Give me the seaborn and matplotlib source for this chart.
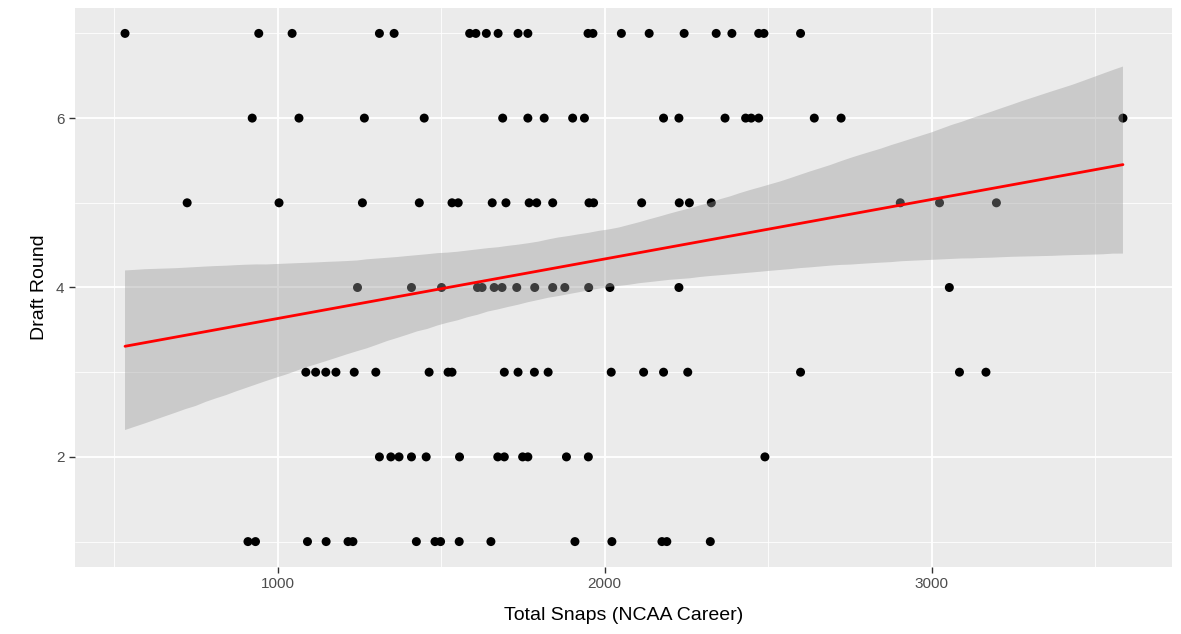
import matplotlib
matplotlib.use('Agg')
import matplotlib.pyplot as plt
import pandas as pd
import seaborn as sns
from matplotlib.ticker import MultipleLocator

# Draft round vs total NCAA career snaps
round_7 = [533, 942, 1044, 1311, 1356, 1587, 1606, 1638, 1674, 1735, 1765, 1949, 1964,
           2051, 2136, 2243, 2341, 2389, 2471, 2487, 2599]
round_6 = [922, 1065, 1265, 1448, 1688, 1765, 1815, 1902, 1938, 2180, 2227, 2368, 2431,
           2448, 2471, 2641, 2723, 3585]
round_5 = [723, 1004, 1259, 1433, 1533, 1552, 1656, 1698, 1769, 1792, 1841, 1952, 1966,
           2113, 2228, 2259, 2326, 2904, 3024, 3198]
round_4 = [1244, 1409, 1501, 1611, 1625, 1662, 1686, 1731, 1786, 1841, 1878, 1951, 2016,
           2227, 3054]
round_3 = [1086, 1116, 1147, 1178, 1234, 1300, 1463, 1521, 1533, 1693, 1735, 1785, 1827,
           2020, 2119, 2180, 2254, 2599, 3085, 3166]
round_2 = [1311, 1346, 1371, 1409, 1454, 1556, 1673, 1693, 1749, 1765, 1883, 1950, 2490]
round_1 = [909, 932, 1091, 1148, 1215, 1230, 1424, 1481, 1498, 1555, 1652, 1909, 2022,
           2175, 2190, 2323]

rows = []
for rnd, snaps in [(7, round_7), (6, round_6), (5, round_5), (4, round_4),
                   (3, round_3), (2, round_2), (1, round_1)]:
    for s in snaps:
        rows.append({'snaps': s, 'round': rnd})
df = pd.DataFrame(rows)

sns.set_theme(style='darkgrid', rc={
    'axes.facecolor': '#EBEBEB',
    'grid.color': 'white',
    'axes.edgecolor': 'white',
})
plt.rcParams['font.family'] = ['Liberation Sans', 'DejaVu Sans']

fig, ax = plt.subplots(figsize=(11.81, 6.34), dpi=100)
fig.subplots_adjust(left=75/1181, right=1172/1181, top=1-8/634, bottom=1-567/634)

# points first, then the smoothing band on top (as ggplot does)
sns.scatterplot(data=df, x='snaps', y='round', color='black', s=42,
                edgecolor='none', ax=ax, zorder=2)
sns.regplot(data=df, x='snaps', y='round', scatter=False, ci=95, seed=3, n_boot=2000,
            color='red', line_kws={'linewidth': 2, 'zorder': 4}, ax=ax, truncate=True)

for coll in ax.collections[1:]:
    coll.set_facecolor('#999999')
    coll.set_alpha(0.4)
    coll.set_edgecolor('none')
    coll.set_zorder(3)

ax.set_xlim(380, 3735)
ax.set_ylim(0.7, 7.3)
ax.xaxis.set_major_locator(MultipleLocator(1000))
ax.xaxis.set_minor_locator(MultipleLocator(500))
ax.yaxis.set_major_locator(MultipleLocator(2))
ax.yaxis.set_minor_locator(MultipleLocator(1))
ax.grid(which='major', color='white', linewidth=1.3)
ax.grid(which='minor', color='white', linewidth=0.6)
ax.set_axisbelow(True)

ax.tick_params(axis='both', which='major', labelsize=11, labelcolor='#4D4D4D',
               length=4, width=1, color='#333333', bottom=True, left=True)
ax.tick_params(which='minor', length=0)
for sp in ax.spines.values():
    sp.set_visible(False)

ax.set_xlabel('Total Snaps (NCAA Career)', fontsize=14, color='black', labelpad=11)
ax.set_ylabel('Draft Round', fontsize=14, color='black', labelpad=6)

plt.savefig('out.png', dpi=100)
plt.close()
